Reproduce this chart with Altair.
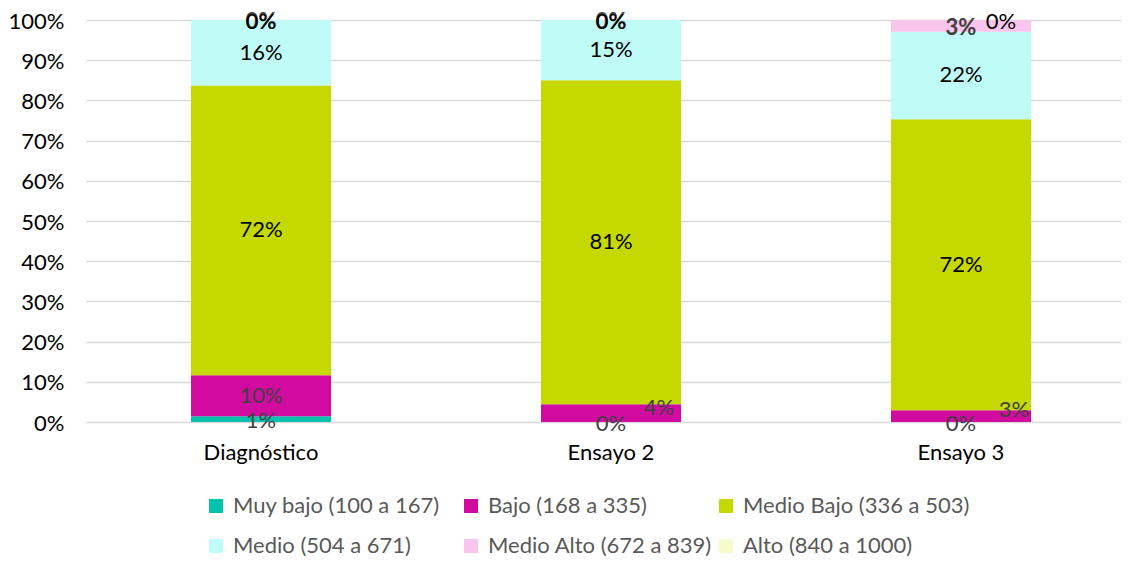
import altair as alt
import pandas as pd

categories = ["Diagnóstico", "Ensayo 2", "Ensayo 3"]
levels = [
    "Muy bajo (100 a 167)",
    "Bajo (168 a 335)",
    "Medio Bajo (336 a 503)",
    "Medio (504 a 671)",
    "Medio Alto (672 a 839)",
    "Alto (840 a 1000)",
]
colors = ["#00C2AD", "#D20BA0", "#C5D800", "#BFFCF7", "#F9C5EC", "#F5FBCB"]

# percentages per level, one value per category
muy_bajo = [1.4, 0.0, 0.0]
bajo = [10.2, 4.4, 2.9]
medio_bajo = [72.1, 80.6, 72.4]
medio = [16.3, 15.0, 21.8]
medio_alto = [0.0, 0.0, 2.9]
alto = [0.0, 0.0, 0.0]

series = [muy_bajo, bajo, medio_bajo, medio, medio_alto, alto]
rows = []
for i, (lvl, vals) in enumerate(zip(levels, series)):
    for c, v in zip(categories, vals):
        rows.append({"cat": c, "nivel": lvl, "orden": i, "share": v / 100})
df = pd.DataFrame(rows)

FONT = "Lato"
FS = 22
xscale = alt.Scale(domain=categories, paddingInner=0.6, paddingOuter=0.2786, align=0.5385)
yscale = alt.Scale(domain=[0, 1], nice=False)

x_axis = alt.Axis(labelAngle=0, domain=False, ticks=False, labelFont=FONT,
                  labelFontSize=FS, labelColor="#000000", labelPadding=20)
y_axis = alt.Axis(format=".0%", values=[i / 10 for i in range(11)],
                  domain=False, ticks=False, grid=True,
                  gridColor="#D9D9D9", gridWidth=1.5,
                  labelFont=FONT, labelFontSize=FS, labelColor="#000000",
                  labelPadding=22, labelOffset=1)

bars = alt.Chart(df).mark_bar().encode(
    x=alt.X("cat:N", scale=xscale, sort=categories, title=None, axis=x_axis),
    y=alt.Y("share:Q", stack="zero", scale=yscale, title=None, axis=y_axis),
    color=alt.Color("nivel:N", scale=alt.Scale(domain=levels, range=colors),
                    legend=alt.Legend(orient="none", legendX=119, legendY=475,
                                      direction="horizontal", columns=3,
                                      gridAlign="all", title=None,
                                      symbolType="square", symbolSize=196,
                                      symbolStrokeWidth=0, labelFont=FONT,
                                      labelFontSize=FS, labelColor="#595959",
                                      labelOffset=6, columnPadding=-5,
                                      rowPadding=18, labelLimit=400, padding=0)),
    order=alt.Order("orden:Q", sort="ascending"),
)

base = (
    alt.Chart(df)
    .transform_stack(stack="share", groupby=["cat"],
                     sort=[alt.SortField("orden", order="ascending")],
                     as_=["s0", "s1"])
    .transform_calculate(mid="(datum.s0 + datum.s1) / 2",
                         lbl="format(datum.share, '.0%')")
)


def labels(filt, color, dx=0, dy=0, weight="normal"):
    return base.transform_filter(filt).mark_text(
        font=FONT, fontSize=FS, color=color, dx=dx, dy=dy,
        fontWeight=weight, baseline="middle", align="center",
    ).encode(
        x=alt.X("cat:N", scale=xscale, sort=categories, title=None, axis=x_axis),
        y=alt.Y("mid:Q", scale=yscale, title=None, axis=y_axis),
        text="lbl:N",
    )


t_muy = labels("datum.orden == 0", "#404040", dy=2)
t_bajo_c = labels("datum.orden == 1 && datum.cat == 'Diagnóstico'", "#404040")
t_bajo_2 = labels("datum.orden == 1 && datum.cat == 'Ensayo 2'", "#404040", dx=48, dy=-5)
t_bajo_3 = labels("datum.orden == 1 && datum.cat == 'Ensayo 3'", "#404040", dx=53, dy=-6)
t_mid = labels("datum.orden == 2 || datum.orden == 3", "#000000")
t_malto = labels("datum.orden == 4", "#404040", dy=2, weight="bold")
t_alto_c = labels("datum.orden == 5 && datum.cat != 'Ensayo 3'", "#000000", dy=2)
t_alto_o = labels("datum.orden == 5 && datum.cat == 'Ensayo 3'", "#000000", dx=40, dy=2)

chart = (
    alt.layer(bars, t_muy, t_bajo_c, t_bajo_2, t_bajo_3, t_mid, t_malto, t_alto_c, t_alto_o)
    .properties(
        width=1035, height=402,
        autosize=alt.AutoSizeParams(type="none"),
        padding={"left": 78, "top": 12, "right": 0, "bottom": 137},
        background="#FFFFFF",
    )
    .configure_view(stroke=None)
)

chart.save("out.html", embed_options={"renderer": "svg", "actions": False})
